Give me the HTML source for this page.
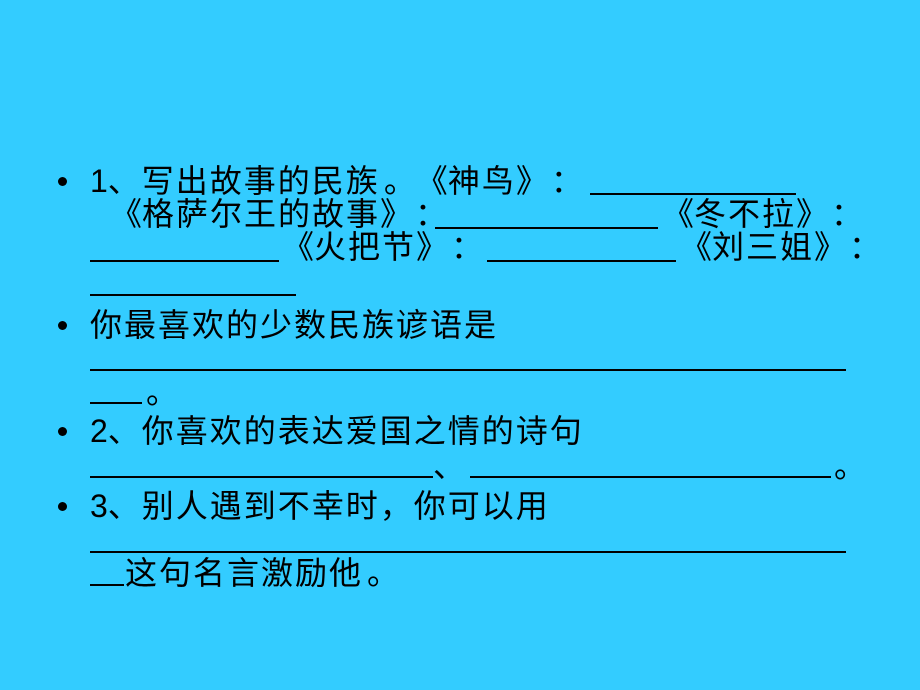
<!DOCTYPE html>
<html><head><meta charset="utf-8"><style>
html,body{margin:0;padding:0}
body{width:920px;height:690px;background:#33CCFF;position:relative;overflow:hidden;font-family:"Noto Sans CJK SC","WenQuanYi Zen Hei",sans-serif;color:#000}
.t{position:absolute;font-size:32px;line-height:32px;white-space:nowrap;letter-spacing:2px}
.n{font-family:"Liberation Sans",sans-serif;letter-spacing:0}
.u{position:absolute;height:2px;background:#000}
.b{position:absolute;width:9px;height:9px;border-radius:50%;background:#000;left:58px}
.l,.r,.c,.p{display:inline-block;width:34px;letter-spacing:0}
.l{text-align:right}
.r{text-align:left}
.c{text-align:center}
.p{text-align:left;padding-left:4px;width:30px}
</style></head><body>
<div class="b" style="top:177px"></div>
<div class="t" style="left:90px;top:163px"><span class="n">1</span>、写出故事的民族<span class="p">。</span><span class="l">《</span>神鸟<span class="r">》</span><span class="c">：</span></div>
<div class="u" style="left:590px;width:206px;top:193px"></div>
<div class="t" style="left:108px;top:196px"><span class="l">《</span>格萨尔王的故事<span class="r">》</span><span class="c">：</span></div>
<div class="u" style="left:435px;width:223px;top:227px"></div>
<div class="t" style="left:660px;top:196px"><span class="l">《</span>冬不拉<span class="r">》</span><span class="c">：</span></div>
<div class="u" style="left:90px;width:189px;top:260px"></div>
<div class="t" style="left:280px;top:229px"><span class="l">《</span>火把节<span class="r">》</span><span class="c">：</span></div>
<div class="u" style="left:487px;width:189px;top:260px"></div>
<div class="t" style="left:678px;top:229px"><span class="l">《</span>刘三姐<span class="r">》</span><span class="c">：</span></div>
<div class="u" style="left:90px;width:206px;top:294px"></div>
<div class="b" style="top:321px"></div>
<div class="t" style="left:90px;top:307px">你最喜欢的少数民族谚语是</div>
<div class="u" style="left:90px;width:756px;top:369px"></div>
<div class="u" style="left:90px;width:52px;top:402px"></div>
<div class="t" style="left:142px;top:374px"><span class="p">。</span></div>
<div class="b" style="top:427px"></div>
<div class="t" style="left:90px;top:413px"><span class="n">2</span>、你喜欢的表达爱国之情的诗句</div>
<div class="u" style="left:90px;width:343px;top:476px"></div>
<div class="t" style="left:433px;top:448px">、</div>
<div class="u" style="left:470px;width:361px;top:476px"></div>
<div class="t" style="left:830px;top:448px"><span class="p">。</span></div>
<div class="b" style="top:502px"></div>
<div class="t" style="left:90px;top:488px"><span class="n">3</span>、别人遇到不幸时，你可以用</div>
<div class="u" style="left:90px;width:756px;top:551px"></div>
<div class="u" style="left:90px;width:34px;top:584px"></div>
<div class="t" style="left:125px;top:555px">这句名言激励他<span class="p">。</span></div>
</body></html>
